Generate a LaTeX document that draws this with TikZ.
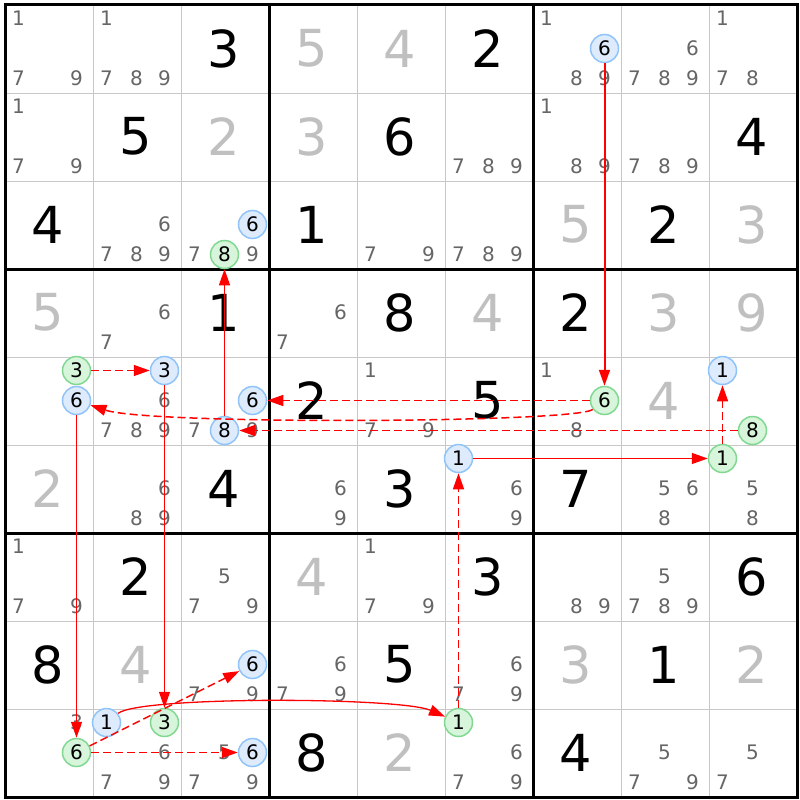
\documentclass[tikz,border=0pt]{standalone}
\usepackage{fontspec}
\setmainfont{DejaVu Sans}
\usetikzlibrary{arrows.meta}
\definecolor{candgray}{HTML}{666666}
\definecolor{solvedgray}{HTML}{C0C0C0}
\definecolor{thingrid}{HTML}{C8C8C8}
\definecolor{bluefill}{HTML}{DDEBFD}
\definecolor{blueline}{HTML}{90C4F8}
\definecolor{greenfill}{HTML}{D6F5DA}
\definecolor{greenline}{HTML}{82D892}
\newcommand\cands[3]{\foreach \k in {#3}{\node[cand] (k-#1-#2-\k) at ({18.5+88*#1+30*mod(\k-1,3)-2*floor(mod(\k-1,3)/2)},{18.5+88*#2+30*floor((\k-1)/3)}) {\k};}}
\newcommand\gv[3]{\node[given] (d-#1-#2) at ({48+88*#1},{48.5+88*#2}) {#3};}
\newcommand\sv[3]{\node[solved] (d-#1-#2) at ({48+88*#1},{48.5+88*#2}) {#3};}
\newcommand\ccand[5]{\node[#1] (#2) at ({18.5+88*#3+30*mod(#5-1,3)-2*floor(mod(#5-1,3)/2)},{18.5+88*#4+30*floor((#5-1)/3)}) {#5};}
\begin{document}
\begin{tikzpicture}[x=1pt,y=-1pt,
 cand/.style={text=candgray,font=\fontsize{20}{20}\selectfont,inner sep=0pt},
 given/.style={text=black,font=\fontsize{51}{52}\selectfont,inner sep=0pt},
 solved/.style={text=solvedgray,font=\fontsize{51}{52}\selectfont,inner sep=0pt},
 bluec/.style={circle,draw=blueline,fill=bluefill,line width=1.5pt,minimum size=28pt,inner sep=0pt,text=black,font=\fontsize{20}{20}\selectfont},
 greenc/.style={circle,draw=greenline,fill=greenfill,line width=1.5pt,minimum size=28pt,inner sep=0pt,text=black,font=\fontsize{20}{20}\selectfont},
 link/.style={red,line width=1.3pt,-{Triangle[length=16pt,width=11pt]}},
 weak/.style={link,line width=1.5pt,dash pattern=on 8pt off 4pt},
 gridthin/.style={draw=thingrid,line width=1pt},
 gridthick/.style={draw=black,line width=3pt},
]
\useasboundingbox (0,0) rectangle (800,800);
\fill[white] (0,0) rectangle (800,800);
% grid
\foreach \i in {1,2,4,5,7,8}{
  \draw[gridthin] ({5+88*\i},5) -- ({5+88*\i},797);
  \draw[gridthin] (5,{5+88*\i}) -- (797,{5+88*\i});
}
\foreach \i in {1,2}{
  \draw[gridthick] ({5+264*\i},5) -- ({5+264*\i},797);
  \draw[gridthick] (5,{5+264*\i}) -- (797,{5+264*\i});
}
\draw[gridthick] (5,5) rectangle (797,797);
% row 0
\cands{0}{0}{1,7,9}
\cands{1}{0}{1,7,8,9}
\gv{2}{0}{3}
\sv{3}{0}{5}
\sv{4}{0}{4}
\gv{5}{0}{2}
\cands{6}{0}{1,8,9}
\cands{7}{0}{6,7,8,9}
\cands{8}{0}{1,7,8}
% row 1
\cands{0}{1}{1,7,9}
\gv{1}{1}{5}
\sv{2}{1}{2}
\sv{3}{1}{3}
\gv{4}{1}{6}
\cands{5}{1}{7,8,9}
\cands{6}{1}{1,8,9}
\cands{7}{1}{7,8,9}
\gv{8}{1}{4}
% row 2
\gv{0}{2}{4}
\cands{1}{2}{6,7,8,9}
\cands{2}{2}{7,9}
\gv{3}{2}{1}
\cands{4}{2}{7,9}
\cands{5}{2}{7,8,9}
\sv{6}{2}{5}
\gv{7}{2}{2}
\sv{8}{2}{3}
% row 3
\sv{0}{3}{5}
\cands{1}{3}{6,7}
\gv{2}{3}{1}
\cands{3}{3}{6,7}
\gv{4}{3}{8}
\sv{5}{3}{4}
\gv{6}{3}{2}
\sv{7}{3}{3}
\sv{8}{3}{9}
% row 4
\cands{1}{4}{6,7,8,9}
\cands{2}{4}{7,9}
\gv{3}{4}{2}
\cands{4}{4}{1,7,9}
\gv{5}{4}{5}
\cands{6}{4}{1,8}
\sv{7}{4}{4}
% row 5
\sv{0}{5}{2}
\cands{1}{5}{6,8,9}
\gv{2}{5}{4}
\cands{3}{5}{6,9}
\gv{4}{5}{3}
\cands{5}{5}{6,9}
\gv{6}{5}{7}
\cands{7}{5}{5,6,8}
\cands{8}{5}{5,8}
% row 6
\cands{0}{6}{1,7,9}
\gv{1}{6}{2}
\cands{2}{6}{5,7,9}
\sv{3}{6}{4}
\cands{4}{6}{1,7,9}
\gv{5}{6}{3}
\cands{6}{6}{8,9}
\cands{7}{6}{5,7,8,9}
\gv{8}{6}{6}
% row 7
\gv{0}{7}{8}
\sv{1}{7}{4}
\cands{2}{7}{7,9}
\cands{3}{7}{6,7,9}
\gv{4}{7}{5}
\cands{5}{7}{6,7,9}
\sv{6}{7}{3}
\gv{7}{7}{1}
\sv{8}{7}{2}
% row 8
\cands{0}{8}{3}
\cands{1}{8}{6,7,9}
\cands{2}{8}{5,7,9}
\gv{3}{8}{8}
\sv{4}{8}{2}
\cands{5}{8}{6,7,9}
\gv{6}{8}{4}
\cands{7}{8}{5,7,9}
\cands{8}{8}{5,7}
% highlighted candidates
\ccand{bluec}{a6}{6}{0}{6}
\ccand{greenc}{g6r}{6}{4}{6}
\ccand{bluec}{b6m}{2}{4}{6}
\ccand{bluec}{b6l}{0}{4}{6}
\ccand{greenc}{g8r}{8}{4}{8}
\ccand{bluec}{b8m}{2}{4}{8}
\ccand{greenc}{g8t}{2}{2}{8}
\ccand{bluec}{b6t}{2}{2}{6}
\ccand{greenc}{g3l}{0}{4}{3}
\ccand{bluec}{b3m}{1}{4}{3}
\ccand{greenc}{g3b}{1}{8}{3}
\ccand{greenc}{g6b}{0}{8}{6}
\ccand{bluec}{b6u}{2}{7}{6}
\ccand{bluec}{b6d}{2}{8}{6}
\ccand{bluec}{b1b}{1}{8}{1}
\ccand{greenc}{g1b}{5}{8}{1}
\ccand{bluec}{b1c}{5}{5}{1}
\ccand{greenc}{g1r}{8}{5}{1}
\ccand{bluec}{b1r}{8}{4}{1}
% links
\draw[link,line width=2pt] (a6) -- (g6r);
\draw[weak] (g6r) -- (b6m);
\draw[weak] (g6r) .. controls (575,423) and (150,425) .. (b6l);
\draw[weak] (g8r) -- (b8m);
\draw[link] (b8m) -- (g8t);
\draw[weak] (g3l) -- (b3m);
\draw[link] (b3m) -- (g3b);
\draw[link] (b6l) -- (g6b);
\draw[weak] (g6b) -- (b6u);
\draw[weak] (g6b) -- (b6d);
\draw[link] (b1b) .. controls (140,696) and (400,697) .. (g1b);
\draw[weak] (g1b) -- (b1c);
\draw[link] (b1c) -- (g1r);
\draw[weak] (g1r) -- (b1r);
\end{tikzpicture}
\end{document}
